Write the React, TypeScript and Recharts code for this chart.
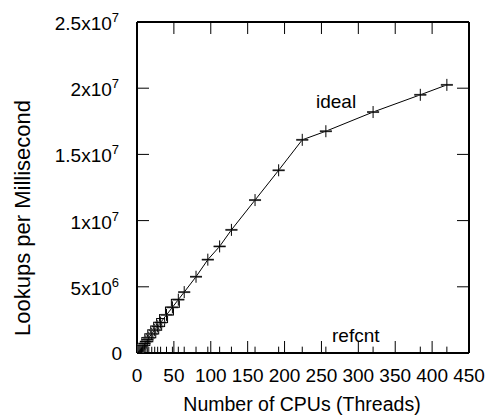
import React from 'react';
import { ComposedChart, Line, XAxis, YAxis, ReferenceLine, Customized } from 'recharts';

const cpus = [1, 2, 3, 4, 5, 6, 7, 8, 10, 12, 14, 16, 20, 24, 28, 32, 40, 48, 56, 64, 80, 96, 112, 128, 160, 192, 224, 256, 320, 384, 420];
const idealVals = [72000, 144000, 216000, 288000, 360000, 432000, 504000, 576000, 720000, 864000, 1008000, 1150000, 1440000, 1730000, 2010000, 2300000, 2880000, 3450000, 4030000, 4600000, 5760000, 7050000, 8050000, 9300000, 11550000, 13800000, 16100000, 16750000, 18200000, 19500000, 20250000];
const refcntVals = [9000, 12000, 14000, 15000, 16000, 17000, 17000, 18000, 18000, 19000, 19000, 20000, 20000, 21000, 21000, 22000, 22000, 23000, 23000, 24000, 24000, 25000, 25000, 26000, 26000, 27000, 27000, 28000, 28000, 29000, 29000];
const squareX = [12, 16, 20, 24, 28, 32, 36, 44, 52];
const squareVals = [870000, 1150000, 1450000, 1740000, 2020000, 2300000, 2600000, 3170000, 3750000];

const xTicks = [0, 50, 100, 150, 200, 250, 300, 350, 400, 450];
const yTicks = [0, 5000000, 10000000, 15000000, 20000000, 25000000];
const yTickLabels: Record<number, [string, string]> = {
  0: ['0', ''],
  5000000: ['5x10', '6'],
  10000000: ['1x10', '7'],
  15000000: ['1.5x10', '7'],
  20000000: ['2x10', '7'],
  25000000: ['2.5x10', '7'],
};

const tableData = cpus.map((c, i) => ({ x: c, ideal: idealVals[i], refcnt: refcntVals[i] }));
const squareData = squareX.map((c, i) => ({ x: c, sq: squareVals[i] }));

const FONT = '"Liberation Sans", Arial, Helvetica, sans-serif';
const W = 489;
const H = 417;
const PL = 137;
const PR = 469;
const PT = 22;
const PB = 353;
const TICK = 12;

const XTick = (props: any) => {
  const { x, payload } = props;
  const v = payload.value;
  return (
    <g>
      {v !== 0 && v !== 450 && (
        <>
          <line x1={x} y1={PB} x2={x} y2={PB - TICK} stroke="#000" strokeWidth={1} />
          <line x1={x} y1={PT} x2={x} y2={PT + TICK} stroke="#000" strokeWidth={1} />
        </>
      )}
      <text x={x} y={382} textAnchor="middle" fontSize={19} fontFamily={FONT} fill="#000">
        {v}
      </text>
    </g>
  );
};

const YTick = (props: any) => {
  const { y, payload } = props;
  const v = payload.value;
  const [base, sup] = yTickLabels[v] || [String(v), ''];
  return (
    <g>
      {v !== 0 && v !== 25000000 && (
        <>
          <line x1={PL} y1={y} x2={PL + TICK} y2={y} stroke="#000" strokeWidth={1} />
          <line x1={PR} y1={y} x2={PR - TICK} y2={y} stroke="#000" strokeWidth={1} />
        </>
      )}
      {sup ? (
        <text x={119} y={y + 8} textAnchor="end" fontSize={19} fontFamily={FONT} fill="#000">
          <tspan>{base}</tspan>
          <tspan dy={-8} fontSize={13}>{sup}</tspan>
        </text>
      ) : (
        <text x={122} y={y + 7} textAnchor="end" fontSize={19} fontFamily={FONT} fill="#000">
          {base}
        </text>
      )}
    </g>
  );
};

const PlusDot = (props: any) => {
  const { cx, cy, index } = props;
  if (cx == null || cy == null) return <g key={`p-${index}`} />;
  return (
    <g key={`p-${index}`}>
      <line x1={cx - 6} y1={cy} x2={cx + 6} y2={cy} stroke="#777" strokeWidth={2} />
      <line x1={cx - 6} y1={cy} x2={cx + 6} y2={cy} stroke="#000" strokeWidth={1} />
      <line x1={cx} y1={cy - 6} x2={cx} y2={cy + 6} stroke="#000" strokeWidth={1} />
    </g>
  );
};

const RefDot = (props: any) => {
  const { cx, cy, index } = props;
  if (cx == null || cy == null) return <g key={`r-${index}`} />;
  return (
    <g key={`r-${index}`}>
      <line x1={cx - 6} y1={cy} x2={cx + 6} y2={cy} stroke="#000" strokeWidth={1} />
      <line x1={cx} y1={cy - 6} x2={cx} y2={cy + 6} stroke="#000" strokeWidth={1} />
    </g>
  );
};

const SquareDot = (props: any) => {
  const { cx, cy, index } = props;
  if (cx == null || cy == null) return <g key={`s-${index}`} />;
  return <rect key={`s-${index}`} x={cx - 4} y={cy - 4} width={8} height={8} fill="none" stroke="#000" strokeWidth={1} />;
};

const Labels = () => (
  <g fontFamily={FONT} fill="#000">
    <text x={316} y={108} fontSize={19}>ideal</text>
    <text x={332} y={342} fontSize={19}>refcnt</text>
    <text x={302} y={411} fontSize={19.5} textAnchor="middle">Number of CPUs (Threads)</text>
    <text x={30} y={218} fontSize={22} textAnchor="middle" transform="rotate(-90 30 218)">Lookups per Millisecond</text>
  </g>
);

export default function App() {
  return (
    <div style={{ position: 'absolute', left: 0, top: 0, width: W, height: H, background: '#fff' }}>
      <ComposedChart
        width={W}
        height={H}
        data={tableData}
        margin={{ top: PT, right: W - PR, left: 0, bottom: 0 }}
      >
        <XAxis
          type="number"
          dataKey="x"
          domain={[0, 450]}
          ticks={xTicks}
          interval={0}
          allowDataOverflow
          height={H - PB}
          axisLine={{ stroke: '#000', strokeWidth: 2 }}
          tickLine={false}
          tick={<XTick />}
        />
        <YAxis
          type="number"
          domain={[0, 25000000]}
          ticks={yTicks}
          interval={0}
          allowDataOverflow
          width={PL}
          axisLine={{ stroke: '#000', strokeWidth: 2 }}
          tickLine={false}
          tick={<YTick />}
        />
        <ReferenceLine y={25000000} stroke="#000" strokeWidth={2} />
        <ReferenceLine x={450} stroke="#000" strokeWidth={2} />
        <Line
          type="linear"
          dataKey="refcnt"
          stroke="#000"
          strokeWidth={1}
          dot={(p: any) => <RefDot {...p} />}
          isAnimationActive={false}
        />
        <Line
          type="linear"
          data={squareData}
          dataKey="sq"
          stroke="none"
          dot={(p: any) => <SquareDot {...p} />}
          isAnimationActive={false}
        />
        <Line
          type="linear"
          dataKey="ideal"
          stroke="#000"
          strokeWidth={1}
          dot={(p: any) => <PlusDot {...p} />}
          isAnimationActive={false}
        />
        <Customized component={<Labels />} />
      </ComposedChart>
    </div>
  );
}
